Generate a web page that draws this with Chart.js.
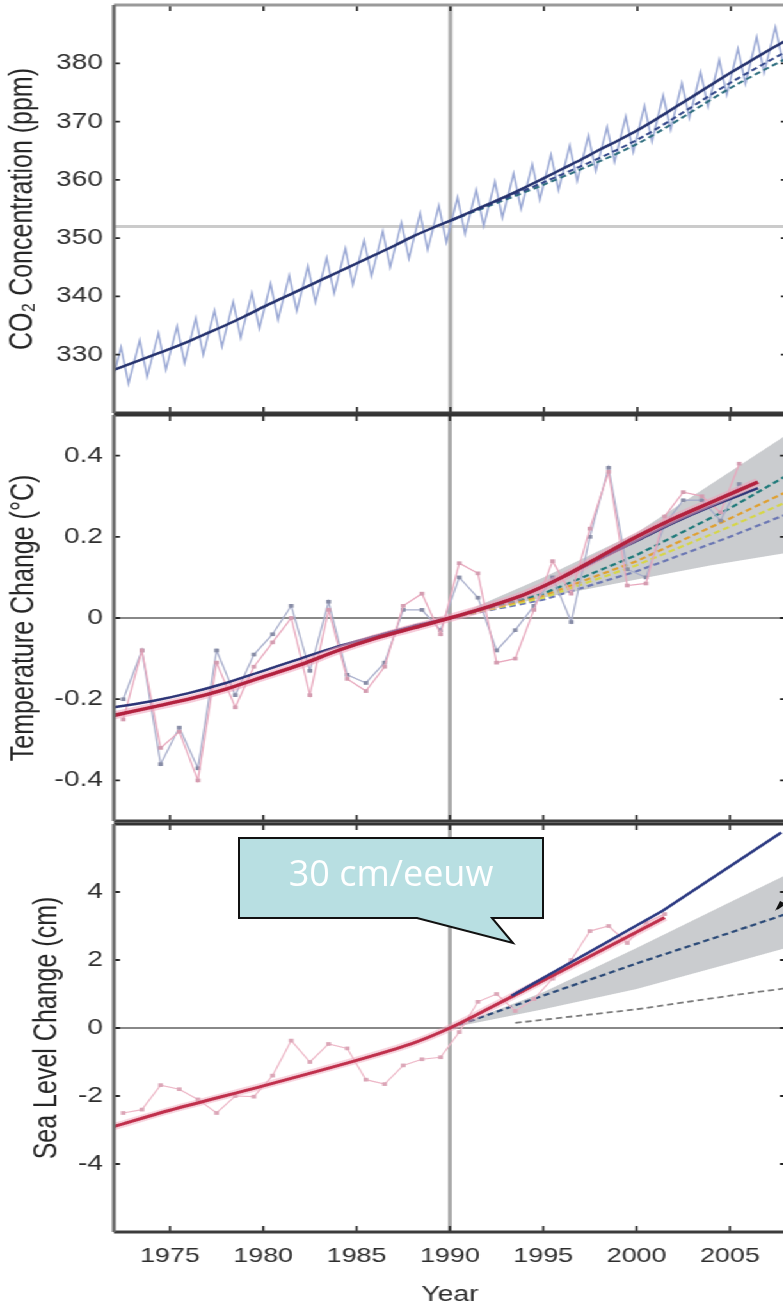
<!DOCTYPE html>
<html>
<head>
<meta charset="utf-8">
<title>CO2, temperatuur en zeeniveau</title>
<script src="https://cdn.jsdelivr.net/npm/chart.js@4.4.1/dist/chart.umd.min.js"></script>
<style>
  html, body { margin: 0; padding: 0; background: #fff; overflow: hidden; width: 783px; height: 1307px; }
  /* the source figure is stretched sideways, so the charts are drawn narrow and widened */
  #stretch { position: absolute; left: 0; top: 0; width: 618px; height: 1307px; transform: scaleX(1.28); transform-origin: 0 0; }
  .panel { position: absolute; left: 0; width: 618px; }
  #callout { position: absolute; left: 0; top: 0; pointer-events: none; }
</style>
</head>
<body>
<div id="stretch">
  <div class="panel" style="top:0;height:416px"><canvas id="co2-chart"></canvas></div>
  <div class="panel" style="top:411px;height:414px"><canvas id="temp-chart"></canvas></div>
  <div class="panel" style="top:820px;height:487px"><canvas id="sea-chart"></canvas></div>
</div>
<svg id="callout" width="783" height="1307">
  <path d="M239,838 H543 V918 H492 L513,943 L417,918 H239 Z" fill="#b8dfe2" stroke="#111" stroke-width="2"/>
  <text x="391" y="886" text-anchor="middle" font-family="Open Sans" font-size="36" fill="#ffffff">30 cm/eeuw</text>
  <path d="M796,896 L777,909" stroke="#111" stroke-width="2"/>
  <path d="M775,911 L784,903 L780,901 Z" fill="#111"/>
</svg>
<script>
(function () {
  'use strict';

  // ---- shared axis data ----
  const xMin = 1972;
  const xMax = 2008;
  const xTickYears = [1975, 1980, 1985, 1990, 1995, 2000, 2005];
  const refYear = 1990;

  // ---- CO2 panel ----
  const co2Ticks = [330, 340, 350, 360, 370, 380];
  const co2TrendYears = [1972, 1973, 1974, 1975, 1976, 1977, 1978, 1979, 1980, 1981, 1982, 1983,
    1984, 1985, 1986, 1987, 1988, 1989, 1990, 1991, 1992, 1993, 1994, 1995, 1996, 1997, 1998,
    1999, 2000, 2001, 2002, 2003, 2004, 2005, 2006, 2007, 2008];
  const co2Trend = [327.4, 328.6, 329.8, 331.0, 332.3, 333.7, 335.1, 336.6, 338.2, 339.7, 341.2, 342.7,
    344.2, 345.7, 347.2, 348.7, 350.3, 351.7, 353.0, 354.4, 355.8, 357.2, 358.7, 360.3, 361.9, 363.5, 365.2,
    366.8, 368.5, 370.4, 372.4, 374.4, 376.4, 378.4, 380.3, 382.2, 384.0];
  // seasonal cycle: May maximum and October minimum of each year
  const co2CycleYears = [1971, 1972, 1973, 1974, 1975, 1976, 1977, 1978, 1979, 1980, 1981, 1982, 1983,
    1984, 1985, 1986, 1987, 1988, 1989, 1990, 1991, 1992, 1993, 1994, 1995, 1996, 1997, 1998,
    1999, 2000, 2001, 2002, 2003, 2004, 2005, 2006, 2007];
  const co2Peak = [330.1, 331.3, 332.5, 333.7, 334.9, 336.3, 337.6, 339.1, 340.6, 342.2, 343.6, 345.2, 346.6,
    348.2, 349.6, 351.2, 352.7, 354.3, 355.6, 357.0, 358.3, 359.7, 361.1, 362.7, 364.3, 365.9, 367.6, 369.1,
    370.9, 372.7, 374.5, 376.6, 378.5, 380.6, 382.5, 384.5, 386.2];
  const co2Trough = [323.8, 325.0, 326.2, 327.4, 328.6, 330.0, 331.4, 332.9, 334.5, 336.0, 337.5, 339.0, 340.5,
    342.0, 343.5, 345.0, 346.5, 348.0, 349.3, 350.7, 352.1, 353.5, 355.0, 356.6, 358.2, 359.8, 361.5, 363.1,
    364.8, 366.6, 368.6, 370.6, 372.6, 374.6, 376.5, 378.4, 380.2];
  const co2ProjYears = [1990, 1995, 2000, 2005, 2008];
  const co2ProjA = [353.0, 359.6, 366.9, 376.7, 382.1];
  const co2ProjB = [353.0, 359.2, 366.2, 375.8, 380.9];
  const co2RefLevel = 352;

  // ---- temperature panel ----
  const tempTicks = [-0.4, -0.2, 0, 0.2, 0.4];
  const tempYears = [1972.5, 1973.5, 1974.5, 1975.5, 1976.5, 1977.5, 1978.5, 1979.5, 1980.5, 1981.5,
    1982.5, 1983.5, 1984.5, 1985.5, 1986.5, 1987.5, 1988.5, 1989.5, 1990.5, 1991.5, 1992.5, 1993.5,
    1994.5, 1995.5, 1996.5, 1997.5, 1998.5, 1999.5, 2000.5, 2001.5, 2002.5, 2003.5, 2004.5, 2005.5];
  const tempPink = [-0.25, -0.08, -0.32, -0.28, -0.40, -0.11, -0.22, -0.12, -0.06, 0.00, -0.19, 0.02,
    -0.15, -0.18, -0.12, 0.03, 0.06, -0.04, 0.135, 0.11, -0.11, -0.10, 0.02, 0.14, 0.06, 0.22, 0.36,
    0.08, 0.085, 0.25, 0.31, 0.30, 0.26, 0.38];
  const tempBlue = [-0.20, -0.08, -0.36, -0.27, -0.37, -0.08, -0.19, -0.09, -0.04, 0.03, -0.13, 0.04,
    -0.14, -0.16, -0.11, 0.02, 0.02, -0.03, 0.10, 0.05, -0.08, -0.03, 0.03, 0.10, -0.01, 0.20, 0.37,
    0.12, 0.10, 0.23, 0.29, 0.29, 0.24, 0.33];
  const tempTrendYears = [1972, 1974, 1976, 1978, 1980, 1982, 1984, 1986, 1988, 1990, 1992, 1994,
    1996, 1998, 2000, 2002, 2004, 2006.5];
  const tempTrendRed = [-0.24, -0.22, -0.20, -0.175, -0.145, -0.115, -0.08, -0.05, -0.025, 0.0, 0.027,
    0.058, 0.10, 0.15, 0.20, 0.245, 0.285, 0.335];
  const tempTrendBlue = [-0.22, -0.205, -0.185, -0.16, -0.13, -0.10, -0.07, -0.045, -0.02, 0.0, 0.027,
    0.058, 0.10, 0.145, 0.19, 0.235, 0.275, 0.32];
  const tempProjYears = [1990, 1995, 2000, 2005, 2008];
  const tempProjTeal = [0, 0.06, 0.155, 0.27, 0.35];
  const tempProjOrange = [0, 0.055, 0.14, 0.245, 0.31];
  const tempProjYellow = [0, 0.05, 0.13, 0.225, 0.285];
  const tempProjBlue = [0, 0.045, 0.115, 0.20, 0.255];
  const tempFanYears = [1990, 1995, 2000, 2004, 2008];
  const tempFanHigh = [0, 0.10, 0.21, 0.33, 0.45];
  const tempFanLow = [0, 0.05, 0.095, 0.13, 0.16];

  // ---- sea level panel ----
  const seaTicks = [-4, -2, 0, 2, 4];
  const seaYears = [1972.5, 1973.5, 1974.5, 1975.5, 1976.5, 1977.5, 1978.5, 1979.5, 1980.5, 1981.5,
    1982.5, 1983.5, 1984.5, 1985.5, 1986.5, 1987.5, 1988.5, 1989.5, 1990.5, 1991.5, 1992.5, 1993.5,
    1994.5, 1995.5, 1996.5, 1997.5, 1998.5, 1999.5, 2000.5, 2001.5];
  const seaGauge = [-2.5, -2.4, -1.68, -1.8, -2.1, -2.5, -2.0, -2.02, -1.4, -0.37, -1.0, -0.47, -0.6,
    -1.52, -1.65, -1.1, -0.92, -0.86, -0.12, 0.77, 1.0, 0.5, 0.85, 1.45, 2.0, 2.85, 3.0, 2.5, 3.1, 3.35];
  const seaTrendYears = [1972, 1975, 1980, 1985, 1988, 1990, 1992, 1995, 1998, 2001.5];
  const seaTrendRed = [-2.9, -2.42, -1.7, -0.95, -0.45, 0.0, 0.55, 1.4, 2.25, 3.25];
  const seaSatYears = [1993.3, 2001.4, 2007.75];
  const seaSat = [0.95, 3.45, 5.75];
  const seaProjYears = [1990, 1995, 2000, 2005, 2008];
  const seaProjMid = [0, 0.95, 1.9, 2.8, 3.35];
  const seaProjLowYears = [1993.5, 2000, 2005, 2008];
  const seaProjLow = [0.15, 0.55, 0.95, 1.17];
  const seaFanYears = [1990, 1995, 2000, 2005, 2008];
  const seaFanHigh = [0, 1.05, 2.35, 3.7, 4.5];
  const seaFanLow = [0, 0.55, 1.15, 1.9, 2.35];

  const FONT = '"Liberation Sans", Arial, Helvetica, sans-serif';
  const AXIS_LEFT = 89;     // width of the y axis box (unscaled px)

  function pts(xs, ys) {
    return xs.map(function (x, i) { return { x: x, y: ys[i] }; });
  }

  const co2Monthly = [];
  co2CycleYears.forEach(function (yr, i) {
    co2Monthly.push({ x: yr + 0.38, y: co2Peak[i] });
    co2Monthly.push({ x: yr + 0.78, y: co2Trough[i] });
  });

  // reference lines, inward tick marks and the box round each panel
  const panelPlugin = {
    id: 'panel',
    beforeDatasetsDraw(chart, args, opts) {
      const { ctx, chartArea: a, scales } = chart;
      ctx.save();
      ctx.beginPath();
      ctx.rect(a.left, a.top, a.right - a.left, a.bottom - a.top);
      ctx.clip();
      if (opts.hLine !== undefined) {
        const py = scales.y.getPixelForValue(opts.hLine);
        ctx.strokeStyle = opts.hColor;
        ctx.lineWidth = opts.hWidth;
        ctx.beginPath();
        ctx.moveTo(a.left, py);
        ctx.lineTo(a.right, py);
        ctx.stroke();
      }
      const px = scales.x.getPixelForValue(refYear);
      ctx.strokeStyle = '#a9a9a9';
      ctx.lineWidth = 3;
      ctx.beginPath();
      ctx.moveTo(px, a.top);
      ctx.lineTo(px, a.bottom);
      ctx.stroke();
      ctx.restore();
    },
    afterDraw(chart, args, opts) {
      const { ctx, chartArea: a, scales } = chart;
      ctx.save();
      ctx.strokeStyle = '#222';
      ctx.lineWidth = 1.6;
      xTickYears.forEach(function (v) {
        const px = scales.x.getPixelForValue(v);
        ctx.beginPath();
        ctx.moveTo(px, a.top); ctx.lineTo(px, a.top + 6);
        ctx.moveTo(px, a.bottom); ctx.lineTo(px, a.bottom - 6);
        ctx.stroke();
      });
      ctx.lineWidth = 1.8;
      opts.yTicks.forEach(function (v) {
        const py = scales.y.getPixelForValue(v);
        ctx.beginPath();
        ctx.moveTo(a.left, py); ctx.lineTo(a.left + 4.7, py);
        ctx.moveTo(a.right, py); ctx.lineTo(a.right - 4.7, py);
        ctx.stroke();
      });
      ctx.lineWidth = 3;
      ctx.strokeStyle = opts.topColor;
      ctx.beginPath(); ctx.moveTo(a.left, a.top); ctx.lineTo(a.right, a.top); ctx.stroke();
      ctx.strokeStyle = '#3c3c3c';
      ctx.beginPath(); ctx.moveTo(a.left, a.bottom); ctx.lineTo(a.right, a.bottom); ctx.stroke();
      ctx.strokeStyle = '#6c6c6c';
      ctx.beginPath(); ctx.moveTo(a.left, a.top); ctx.lineTo(a.left, a.bottom); ctx.stroke();
      ctx.beginPath(); ctx.moveTo(a.right, a.top); ctx.lineTo(a.right, a.bottom); ctx.stroke();
      ctx.restore();
    }
  };
  Chart.register(panelPlugin);

  function makeOptions(cfg) {
    return {
      responsive: true,
      maintainAspectRatio: false,
      animation: false,
      events: [],
      layout: { padding: { top: cfg.padTop, bottom: cfg.padBottom, left: 0, right: 3.2 } },
      elements: { point: { radius: 0 }, line: { tension: 0 } },
      plugins: {
        legend: { display: false },
        tooltip: { enabled: false },
        panel: cfg.panel
      },
      scales: {
        x: {
          type: 'linear',
          min: xMin,
          max: xMax,
          display: cfg.showX,
          afterBuildTicks: function (s) { s.ticks = xTickYears.map(function (v) { return { value: v }; }); },
          afterFit: function (s) {
            s.height = cfg.showX ? 75 : 0;
            s.paddingLeft = 0; s.paddingRight = 0;
          },
          grid: { display: false, drawTicks: false },
          border: { display: false },
          ticks: {
            autoSkip: false, maxRotation: 0, padding: 12, color: '#2e2e2e',
            font: { family: FONT, size: 21 },
            callback: function (v) { return String(v); }
          },
          title: {
            display: true, text: 'Year', color: '#2e2e2e',
            font: { family: FONT, size: 22, lineHeight: 1 },
            padding: { top: 0, bottom: 1.5 }
          }
        },
        y: {
          type: 'linear',
          min: cfg.yMin,
          max: cfg.yMax,
          afterBuildTicks: function (s) { s.ticks = cfg.yTicks.map(function (v) { return { value: v }; }); },
          afterFit: function (s) {
            s.width = AXIS_LEFT;
            s.paddingTop = 0; s.paddingBottom = 0;
          },
          grid: { display: false, drawTicks: false },
          border: { display: false },
          ticks: {
            padding: 8.5, color: '#2e2e2e',
            font: { family: FONT, size: 22 },
            callback: function (v) { return String(v); }
          },
          title: {
            display: true, text: cfg.yTitle, color: '#262626',
            font: { family: FONT, size: 25, lineHeight: 1 },
            padding: { top: cfg.titlePad, bottom: 0 }
          }
        }
      }
    };
  }

  function lineSet(data, color, width, extra) {
    return Object.assign({
      data: data, borderColor: color, borderWidth: width, pointRadius: 0, fill: false
    }, extra || {});
  }

  const dash = [5, 3];

  // CO2
  new Chart(document.getElementById('co2-chart'), {
    type: 'line',
    data: {
      datasets: [
        lineSet(pts(co2TrendYears, co2Trend), '#27346f', 2.5, { tension: 0.3 }),
        lineSet(pts(co2ProjYears, co2ProjA), '#34488a', 2, { borderDash: dash, tension: 0.3 }),
        lineSet(pts(co2ProjYears, co2ProjB), '#2e6e7e', 2, { borderDash: dash, tension: 0.3 }),
        lineSet(co2Monthly, '#9aa8d4', 1.5)
      ]
    },
    options: makeOptions({
      padTop: 5, padBottom: 3, showX: false,
      yMin: 320, yMax: 390, yTicks: co2Ticks,
      yTitle: 'CO\u2082 Concentration (ppm)', titlePad: 5.5,
      panel: { yTicks: co2Ticks, hLine: co2RefLevel, hColor: '#cbcbcb', hWidth: 3, topColor: '#9a9a9a' }
    })
  });

  // temperature
  new Chart(document.getElementById('temp-chart'), {
    type: 'line',
    data: {
      datasets: [
        lineSet(pts(tempTrendYears, tempTrendRed), '#b3223f', 3.5, { tension: 0.3 }),
        lineSet(pts(tempTrendYears, tempTrendRed), 'rgba(238,160,185,0.55)', 8, { tension: 0.3 }),
        lineSet(pts(tempTrendYears, tempTrendBlue), '#2d3577', 2.5, { tension: 0.3 }),
        lineSet(pts(tempYears, tempPink), '#e8a8bd', 1.3, {
          pointRadius: 2.6, pointStyle: 'rect', pointBackgroundColor: '#d49cb0', pointBorderWidth: 0
        }),
        lineSet(pts(tempYears, tempBlue), '#a8aecb', 1.3, {
          pointRadius: 2.6, pointStyle: 'rect', pointBackgroundColor: '#878ca6', pointBorderWidth: 0
        }),
        lineSet(pts(tempProjYears, tempProjTeal), '#1f7a7a', 2.2, { borderDash: dash }),
        lineSet(pts(tempProjYears, tempProjOrange), '#e0a030', 2.2, { borderDash: dash }),
        lineSet(pts(tempProjYears, tempProjYellow), '#d6d64a', 2.2, { borderDash: dash }),
        lineSet(pts(tempProjYears, tempProjBlue), '#6c78b4', 2.2, { borderDash: dash }),
        lineSet(pts(tempFanYears, tempFanHigh), 'rgba(0,0,0,0)', 0, { fill: '+1', backgroundColor: '#cacccf' }),
        lineSet(pts(tempFanYears, tempFanLow), 'rgba(0,0,0,0)', 0)
      ]
    },
    options: makeOptions({
      padTop: 3, padBottom: 3, showX: false,
      yMin: -0.5, yMax: 0.5, yTicks: tempTicks,
      yTitle: 'Temperature Change (\u00B0C)', titlePad: 6.2,
      panel: { yTicks: tempTicks, hLine: 0, hColor: '#888', hWidth: 2.2, topColor: '#333' }
    })
  });

  // sea level
  new Chart(document.getElementById('sea-chart'), {
    type: 'line',
    data: {
      datasets: [
        lineSet(pts(seaSatYears, seaSat), '#2c3a82', 2.5),
        lineSet(pts(seaTrendYears, seaTrendRed), '#c0304c', 3, { tension: 0.3 }),
        lineSet(pts(seaTrendYears, seaTrendRed), 'rgba(240,170,190,0.5)', 7, { tension: 0.3 }),
        lineSet(pts(seaYears, seaGauge), '#edb6c6', 1.2, {
          pointRadius: 2.6, pointStyle: 'rect', pointBackgroundColor: '#dba6b7', pointBorderWidth: 0
        }),
        lineSet(pts(seaProjYears, seaProjMid), '#2b4a78', 2.2, { borderDash: dash }),
        lineSet(pts(seaProjLowYears, seaProjLow), '#7b7b7b', 1.8, { borderDash: dash }),
        lineSet(pts(seaFanYears, seaFanHigh), 'rgba(0,0,0,0)', 0, { fill: '+1', backgroundColor: '#cacccf' }),
        lineSet(pts(seaFanYears, seaFanLow), 'rgba(0,0,0,0)', 0)
      ]
    },
    options: makeOptions({
      padTop: 3, padBottom: 0, showX: true,
      yMin: -6, yMax: 6, yTicks: seaTicks,
      yTitle: 'Sea Level Change (cm)', titlePad: 25,
      panel: { yTicks: seaTicks, hLine: 0, hColor: '#888', hWidth: 2.2, topColor: '#333' }
    })
  });
})();
</script>
</body>
</html>
